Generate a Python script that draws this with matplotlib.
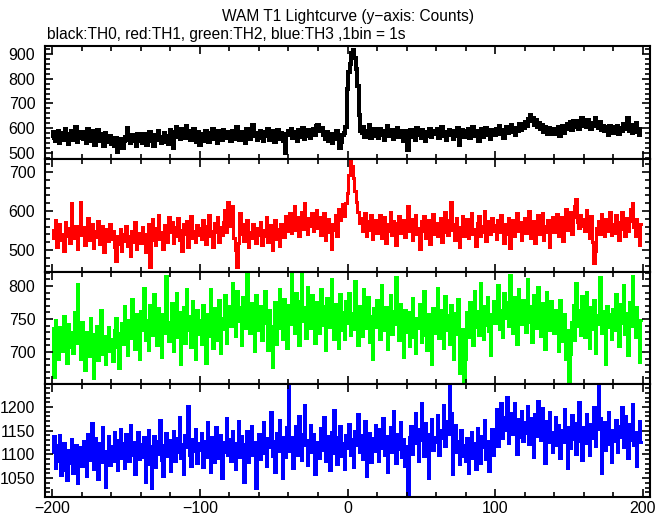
import matplotlib
matplotlib.use("Agg")
import matplotlib.pyplot as plt
import numpy as np
from matplotlib.ticker import MultipleLocator

plt.rcParams['font.family'] = ['Liberation Sans', 'DejaVu Sans']

# Data: 1 s bins, t = -200 .. 199
t_start = -200

th0 = [
    560, 585, 548, 572, 590, 541, 566, 579, 553, 598, 562, 537, 575, 588, 551, 569, 604, 546, 577, 559,
    583, 556, 571, 540, 596, 563, 548, 587, 570, 533, 561, 592, 549, 575, 566, 528, 581, 557, 543, 570,
    538, 552, 529, 561, 506, 544, 533, 557, 521, 548, 566, 601, 553, 539, 571, 547, 560, 530, 575, 549,
    563, 541, 578, 555, 534, 569, 586, 548, 560, 527, 573, 552, 589, 566, 540, 558, 581, 545, 570, 537,
    592, 571, 519, 585, 604, 566, 579, 557, 598, 583, 562, 611, 574, 589, 551, 578, 596, 569, 545, 583,
    531, 558, 576, 549, 590, 567, 544, 581, 563, 598, 556, 572, 540, 587, 569, 551, 593, 575, 560, 584,
    566, 547, 589, 570, 558, 606, 574, 552, 585, 563, 579, 541, 596, 571, 556, 588, 612, 567, 580, 553,
    575, 591, 562, 548, 583, 569, 597, 554, 578, 565, 587, 543, 572, 593, 558, 581, 566, 549, 502, 576,
    588, 571, 599, 560, 583, 574, 547, 592, 579, 565, 603, 556, 586, 570, 594, 561, 580, 597, 574, 608,
    612, 596, 589, 601, 571, 558, 583, 549, 567, 576, 541, 570, 555, 588, 562, 521, 546, 572, 580, 605,
    758, 826, 861, 903, 917, 885, 840, 771, 653, 591, 579, 604, 566, 588, 573, 615, 559, 582, 596, 570,
    585, 561, 598, 574, 590, 552, 583, 609, 567, 578, 593, 556, 581, 571, 600, 563, 587, 576, 548, 591,
    569, 511, 582, 595, 566, 578, 553, 601, 574, 587, 560, 592, 579, 548, 584, 570, 596, 563, 589, 575,
    582, 597, 561, 575, 604, 568, 586, 553, 579, 594, 571, 589, 557, 583, 568, 600, 531, 574, 592, 563,
    587, 572, 598, 559, 581, 606, 569, 590, 575, 548, 584, 596, 566, 579, 603, 573, 588, 557, 594, 582,
    571, 599, 584, 610, 576, 593, 562, 588, 605, 579, 596, 614, 583, 601, 572, 597, 589, 619, 593, 608,
    602, 624, 611, 637, 655, 628, 642, 615, 633, 604, 621, 598, 613, 586, 605, 592, 578, 601, 584, 596,
    575, 598, 583, 604, 569, 593, 611, 580, 597, 616, 603, 624, 595, 631, 612, 607, 628, 599, 618, 641,
    610, 627, 604, 635, 616, 598, 622, 609, 640, 613, 601, 624, 592, 610, 587, 604, 596, 573, 608, 591,
    582, 606, 594, 611, 578, 600, 589, 617, 596, 605, 643, 588, 612, 579, 603, 596, 620, 584, 571, 598,
]

th1 = [
    552, 531, 578, 509, 543, 566, 527, 540, 498, 572, 535, 556, 519, 621, 547, 530, 561, 503, 544, 624,
    538, 559, 513, 547, 582, 526, 541, 568, 505, 550, 533, 574, 516, 545, 561, 495, 539, 553, 522, 566,
    528, 549, 507, 472, 536, 515, 553, 497, 540, 524, 562, 511, 535, 486, 548, 520, 571, 503, 531, 544,
    517, 558, 532, 496, 541, 568, 456, 527, 579, 538, 512, 556, 591, 529, 547, 503, 565, 536, 521, 584,
    545, 571, 518, 560, 537, 583, 526, 552, 498, 566, 541, 574, 509, 555, 587, 532, 549, 521, 563, 539,
    557, 528, 576, 543, 515, 562, 591, 536, 550, 507, 569, 545, 584, 521, 558, 538, 572, 603, 547, 622,
    561, 579, 612, 530, 499, 457, 518, 596, 541, 567, 523, 553, 578, 509, 545, 532, 566, 548, 519, 557,
    539, 571, 514, 552, 535, 584, 521, 547, 563, 499, 541, 576, 528, 555, 511, 568, 542, 533, 587, 549,
    566, 594, 543, 578, 612, 551, 585, 537, 569, 598, 555, 621, 574, 540, 583, 562, 596, 548, 577, 603,
    557, 584, 539, 571, 596, 526, 563, 580, 545, 502, 567, 551, 589, 536, 604, 578, 593, 617, 588, 621,
    645, 693, 731, 716, 684, 652, 624, 597, 570, 583, 548, 566, 596, 537, 575, 552, 589, 529, 561, 578,
    543, 571, 591, 532, 558, 584, 519, 566, 549, 597, 538, 575, 556, 512, 569, 587, 544, 561, 578, 534,
    566, 612, 548, 580, 525, 563, 591, 540, 557, 503, 574, 548, 586, 530, 562, 577, 515, 554, 592, 541,
    570, 535, 559, 583, 521, 547, 597, 563, 539, 576, 624, 551, 568, 527, 582, 545, 509, 560, 588, 536,
    558, 579, 532, 566, 594, 541, 553, 511, 570, 586, 537, 562, 545, 599, 523, 557, 574, 540, 581, 549,
    563, 528, 576, 545, 591, 557, 519, 568, 542, 583, 506, 560, 577, 536, 552, 596, 548, 571, 525, 562,
    581, 543, 566, 600, 532, 559, 574, 518, 553, 589, 540, 567, 596, 527, 561, 545, 578, 509, 556, 584,
    547, 569, 592, 535, 561, 584, 522, 576, 604, 551, 568, 597, 540, 585, 612, 631, 573, 556, 590, 562,
    579, 548, 603, 566, 532, 587, 521, 468, 498, 556, 574, 541, 593, 562, 535, 580, 549, 571, 597, 538,
    566, 544, 589, 571, 527, 555, 598, 562, 536, 583, 549, 574, 605, 621, 558, 537, 580, 546, 513, 566,
]

th2 = [
    736, 662, 748, 712, 690, 738, 725, 701, 754, 719, 683, 742, 707, 730, 698, 761, 714, 803, 726, 689,
    745, 706, 672, 731, 719, 694, 752, 703, 661, 727, 740, 688, 716, 763, 697, 724, 681, 709, 738, 702,
    719, 686, 733, 751, 707, 676, 728, 744, 712, 769, 731, 695, 748, 721, 781, 739, 705, 757, 726, 690,
    762, 734, 797, 718, 749, 703, 771, 740, 725, 788, 752, 711, 766, 735, 693, 758, 729, 815, 745, 716,
    737, 774, 702, 751, 789, 723, 760, 681, 743, 768, 714, 796, 733, 755, 707, 778, 741, 690, 763, 727,
    749, 712, 771, 738, 683, 757, 724, 795, 731, 706, 766, 742, 718, 779, 699, 752, 735, 786, 713, 748,
    770, 739, 805, 755, 724, 792, 747, 768, 711, 783, 751, 736, 823, 760, 729, 774, 745, 701, 787, 756,
    733, 769, 718, 751, 792, 744, 703, 763, 740, 677, 728, 775, 712, 758, 796, 737, 720, 781, 749, 706,
    771, 742, 819, 756, 729, 790, 763, 710, 778, 825, 747, 768, 721, 799, 754, 736, 787, 760, 714, 776,
    752, 728, 795, 741, 769, 703, 782, 757, 738, 811, 745, 720, 773, 750, 706, 788, 734, 761, 719, 777,
    744, 790, 726, 759, 735, 808, 752, 711, 770, 743, 724, 796, 761, 737, 783, 715, 754, 690, 767, 738,
    779, 746, 720, 801, 758, 733, 768, 705, 749, 786, 727, 762, 742, 814, 755, 718, 773, 739, 693, 764,
    731, 760, 709, 745, 782, 723, 698, 751, 737, 772, 715, 744, 793, 726, 703, 758, 735, 681, 766, 729,
    748, 797, 721, 763, 740, 706, 785, 733, 756, 712, 771, 744, 690, 759, 727, 781, 668, 704, 735, 652,
    690, 760, 723, 775, 748, 711, 792, 738, 762, 726, 805, 747, 719, 770, 741, 784, 732, 696, 757, 778,
    744, 771, 802, 735, 764, 722, 789, 751, 776, 740, 817, 760, 729, 783, 756, 712, 795, 768, 743, 779,
    757, 731, 810, 769, 745, 715, 786, 753, 737, 798, 762, 724, 774, 748, 705, 791, 758, 733, 777, 746,
    728, 763, 741, 702, 779, 750, 716, 758, 689, 733, 652, 697, 745, 771, 718, 804, 739, 764, 726, 785,
    753, 722, 791, 747, 706, 768, 735, 779, 698, 756, 742, 813, 729, 762, 745, 681, 770, 738, 757, 719,
    765, 734, 788, 751, 709, 772, 744, 801, 727, 759, 696, 776, 740, 815, 753, 722, 768, 737, 684, 748,
]

th3 = [
    1104, 1138, 1072, 1119, 1085, 1141, 1056, 1097, 1123, 1068, 1045, 1110, 1082, 1132, 1061, 1094, 1120, 1039, 1087, 1115,
    1076, 1128, 1097, 1054, 1142, 1089, 1113, 1166, 1070, 1135, 1101, 1048, 1124, 1083, 1157, 1108, 1032, 1092, 1139, 1077,
    1118, 1085, 1147, 1103, 1066, 1131, 1154, 1092, 1125, 1071, 1143, 1110, 1086, 1162, 1099, 1127, 1058, 1116, 1148, 1090,
    1121, 1094, 1136, 1042, 1109, 1152, 1080, 1028, 1117, 1139, 1073, 1128, 1100, 1172, 1088, 1054, 1119, 1145, 1096, 1131,
    1065, 1112, 1150, 1087, 1135, 1104, 1179, 1092, 1122, 1058, 1140, 1116, 1203, 1098, 1076, 1133, 1107, 1154, 1081, 1125,
    1110, 1146, 1073, 1129, 1095, 1168, 1114, 1062, 1137, 1101, 1084, 1158, 1119, 1093, 1141, 1050, 1126, 1105, 1177, 1098,
    1132, 1087, 1150, 1113, 1069, 1124, 1171, 1095, 1138, 1106, 1041, 1121, 1149, 1083, 1116, 1160, 1099, 1127, 1030, 1111,
    1143, 1090, 1125, 1168, 1102, 1076, 1134, 1115, 1189, 1097, 1129, 1063, 1145, 1108, 1172, 1120, 1051, 1136, 1094, 1157,
    1246, 1108, 1137, 1071, 1125, 1160, 1099, 1182, 1116, 1088, 1143, 1205, 1120, 1077, 1131, 1163, 1104, 1142, 1059, 1118,
    1127, 1092, 1155, 1110, 1178, 1085, 1139, 1121, 1066, 1148, 1103, 1194, 1115, 1080, 1136, 1159, 1096, 1124, 1069, 1141,
    1113, 1165, 1098, 1132, 1074, 1150, 1119, 1186, 1104, 1140, 1091, 1128, 1170, 1055, 1117, 1146, 1083, 1135, 1108, 1162,
    1129, 1087, 1153, 1114, 1177, 1098, 1138, 1062, 1124, 1158, 1106, 1191, 1121, 1082, 1144, 1112, 1169, 1095, 1133, 1075,
    1118, 1014, 1136, 1160, 1101, 1147, 1188, 1123, 1085, 1154, 1208, 1131, 1096, 1167, 1119, 1050, 1142, 1174, 1109, 1137,
    1126, 1183, 1099, 1152, 1134, 1205, 1117, 1171, 1143, 1247, 1188, 1058, 1139, 1162, 1105, 1128, 1079, 1151, 1096, 1120,
    1087, 1135, 1061, 1112, 1148, 1093, 1124, 1069, 1156, 1103, 1081, 1139, 1116, 1172, 1090, 1128, 1064, 1107, 1153, 1099,
    1141, 1196, 1117, 1163, 1208, 1134, 1179, 1152, 1221, 1125, 1166, 1188, 1143, 1209, 1158, 1101, 1174, 1137, 1192, 1129,
    1168, 1145, 1203, 1122, 1177, 1156, 1094, 1185, 1139, 1212, 1160, 1131, 1198, 1150, 1082, 1171, 1126, 1189, 1147, 1106,
    1136, 1178, 1119, 1162, 1093, 1151, 1127, 1195, 1140, 1072, 1158, 1114, 1183, 1133, 1167, 1101, 1149, 1210, 1129, 1088,
    1157, 1123, 1186, 1142, 1098, 1164, 1135, 1201, 1117, 1154, 1248, 1176, 1060, 1138, 1169, 1109, 1146, 1190, 1122, 1083,
    1151, 1128, 1173, 1105, 1160, 1137, 1199, 1116, 1182, 1144, 1093, 1165, 1131, 1207, 1119, 1148, 1076, 1139, 1170, 1126,
]

series = [
    (th0, "#000000", 1.45, (477, 932), 100, 20),
    (th1, "#ff0000", 1.05, (445, 734), 100, 20),
    (th2, "#00ff00", 1.05, (651, 822), 50, 10),
    (th3, "#0000ff", 1.05, (1010, 1248), 50, 10),
]

W, H = 669, 515
fig = plt.figure(figsize=(W / 100, H / 100), dpi=100)

left_px, right_px = 45, 650
top_px, bottom_px = 46, 497
ph = (bottom_px - top_px) / 4

for i, (vals, color, lw, ylim, major, minor) in enumerate(series):
    y0 = top_px + i * ph
    ax = fig.add_axes([left_px / W, 1 - (y0 + ph) / H,
                       (right_px - left_px) / W, ph / H])
    edges = np.arange(len(vals) + 1) + t_start - 0.5
    ax.stairs(vals, edges, color=color, linewidth=lw, baseline=None,
              antialiased=False)
    ax.set_xlim(-205, 205)
    ax.set_ylim(*ylim)
    ax.xaxis.set_major_locator(MultipleLocator(100))
    ax.xaxis.set_minor_locator(MultipleLocator(20))
    ax.yaxis.set_major_locator(MultipleLocator(major))
    ax.yaxis.set_minor_locator(MultipleLocator(minor))
    ax.tick_params(which="both", direction="in", top=True, right=True,
                   labelsize=11.5, width=1.2, pad=7)
    ax.tick_params(which="major", length=6)
    ax.tick_params(which="minor", length=3.5)
    ax.tick_params(axis="x", pad=3)
    for sp in ax.spines.values():
        sp.set_linewidth(1.5)
    if i < 3:
        ax.tick_params(labelbottom=False)

fig.text(348 / W, 1 - 17 / H, "WAM T1 Lightcurve (y\u2212axis: Counts)",
         ha="center", va="center", fontsize=11.2)
fig.text(47 / W, 1 - 35 / H, "black:TH0, red:TH1, green:TH2, blue:TH3 ,1bin = 1s",
         ha="left", va="center", fontsize=11.2)

fig.savefig("out.png", dpi=100)
